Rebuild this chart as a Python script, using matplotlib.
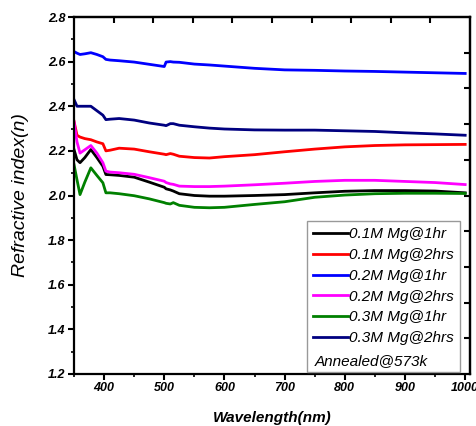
import numpy as np
import matplotlib
matplotlib.use("Agg")
import matplotlib.pyplot as plt
from matplotlib.lines import Line2D

plt.rcParams['font.family'] = ['Liberation Sans', 'DejaVu Sans']

wavelength = [350, 355, 360, 368, 378, 388, 398, 403, 410, 425, 450, 475, 500, 503,
              510, 515, 525, 550, 575, 600, 650, 700, 750, 800, 850, 900, 950, 1000]

n_01M_1hr = [2.206, 2.160, 2.147, 2.170, 2.206, 2.170, 2.131, 2.094, 2.093, 2.090, 2.082, 2.060, 2.037, 2.030,
             2.025, 2.020, 2.008, 2.000, 1.997, 1.997, 2.000, 2.004, 2.012, 2.019, 2.022, 2.022, 2.020, 2.012]
n_01M_2hrs = [2.333, 2.270, 2.262, 2.255, 2.250, 2.240, 2.232, 2.200, 2.203, 2.212, 2.208, 2.196, 2.185, 2.183,
              2.188, 2.185, 2.176, 2.170, 2.168, 2.174, 2.183, 2.196, 2.208, 2.218, 2.224, 2.227, 2.228, 2.229]
n_02M_1hr = [2.645, 2.638, 2.632, 2.635, 2.640, 2.632, 2.622, 2.610, 2.607, 2.604, 2.598, 2.588, 2.578, 2.598,
             2.600, 2.598, 2.597, 2.589, 2.585, 2.580, 2.570, 2.563, 2.561, 2.558, 2.556, 2.553, 2.550, 2.547]
n_02M_2hrs = [2.330, 2.240, 2.190, 2.205, 2.224, 2.190, 2.147, 2.109, 2.105, 2.102, 2.095, 2.080, 2.064, 2.058,
              2.052, 2.050, 2.042, 2.040, 2.040, 2.042, 2.048, 2.055, 2.063, 2.068, 2.068, 2.063, 2.058, 2.049]
n_03M_1hr = [2.139, 2.070, 2.004, 2.060, 2.124, 2.090, 2.057, 2.012, 2.012, 2.008, 1.999, 1.985, 1.968, 1.965,
             1.962, 1.968, 1.956, 1.947, 1.945, 1.947, 1.960, 1.972, 1.992, 2.002, 2.008, 2.010, 2.010, 2.009]
n_03M_2hrs = [2.430, 2.400, 2.400, 2.400, 2.400, 2.380, 2.360, 2.340, 2.342, 2.345, 2.338, 2.325, 2.315, 2.313,
              2.322, 2.322, 2.315, 2.308, 2.302, 2.298, 2.294, 2.293, 2.293, 2.290, 2.287, 2.281, 2.276, 2.270]

labels = ['0.1M Mg@1hr', '0.1M Mg@2hrs', '0.2M Mg@1hr', '0.2M Mg@2hrs', '0.3M Mg@1hr', '0.3M Mg@2hrs']
colors = ['#000000', '#ff0000', '#0000ff', '#ff00ff', '#008000', '#000080']
series = [n_01M_1hr, n_01M_2hrs, n_02M_1hr, n_02M_2hrs, n_03M_1hr, n_03M_2hrs]

fig = plt.figure(figsize=(4.76, 4.26), dpi=100)
ax = fig.add_axes([74/476, 1-374/426, 396/476, 357/426])

for s, c, l in zip(series, colors, labels):
    ax.plot(wavelength, s, color=c, lw=2.0, label=l)

xmin, xmax = 350, 1008
ymin, ymax = 1.2, 2.8
ax.set_xlim(xmin, xmax)
ax.set_ylim(ymin, ymax)

ax.set_xticks([400, 500, 600, 700, 800, 900, 1000])
ax.set_xticks(np.arange(350, 1001, 50), minor=True)
ax.set_yticks(np.arange(1.2, 2.81, 0.2))
ax.set_yticks(np.arange(1.2, 2.81, 0.1), minor=True)
ax.set_yticklabels([f"{v:.1f}" for v in np.arange(1.2, 2.81, 0.2)])

ax.tick_params(which='major', direction='out', length=4, width=1.5, pad=2,
               top=False, right=False)
ax.tick_params(which='minor', direction='out', length=2.5, width=1.2, top=False, right=False)
for lab in ax.get_xticklabels() + ax.get_yticklabels():
    lab.set_fontsize(9)
    lab.set_fontweight('bold')
    lab.set_fontstyle('italic')

for sp in ax.spines.values():
    sp.set_linewidth(1.6)

# Top and right axes with their own inward ticks
top = ax.secondary_xaxis('top')
top.set_xticks(np.linspace(xmin, xmax, 11)[1:-1])
top.tick_params(direction='in', length=4, width=1.5, labeltop=False)
top.spines['top'].set_linewidth(1.6)
right = ax.secondary_yaxis('right')
right.set_yticks(np.linspace(ymin, ymax, 11)[1:-1])
right.tick_params(direction='in', length=4, width=1.5, labelright=False)
right.spines['right'].set_linewidth(1.6)

ax.set_xlabel('Wavelength(nm)', fontsize=11, fontweight='bold', fontstyle='italic', labelpad=12)
ax.set_ylabel('Refractive index(n)', fontsize=14, fontstyle='italic', labelpad=14)

handles, labs = ax.get_legend_handles_labels()
handles.append(Line2D([], [], color='none'))
labs.append(' ')
leg = ax.legend(handles, labs, loc='lower left', bbox_to_anchor=(0.588, 0.006),
                borderaxespad=0, prop={'style': 'italic', 'size': 11},
                handlelength=2.3, handletextpad=0.05, labelspacing=0.44,
                borderpad=0.4, fancybox=False, framealpha=1, edgecolor='#999999')
leg.get_frame().set_linewidth(1.0)
leg.set_zorder(5)
ax.text(0.609, 0.036, 'Annealed@573k', transform=ax.transAxes, fontsize=11,
        fontstyle='italic', va='center', ha='left', zorder=10)

fig.savefig('out.png', dpi=100)
